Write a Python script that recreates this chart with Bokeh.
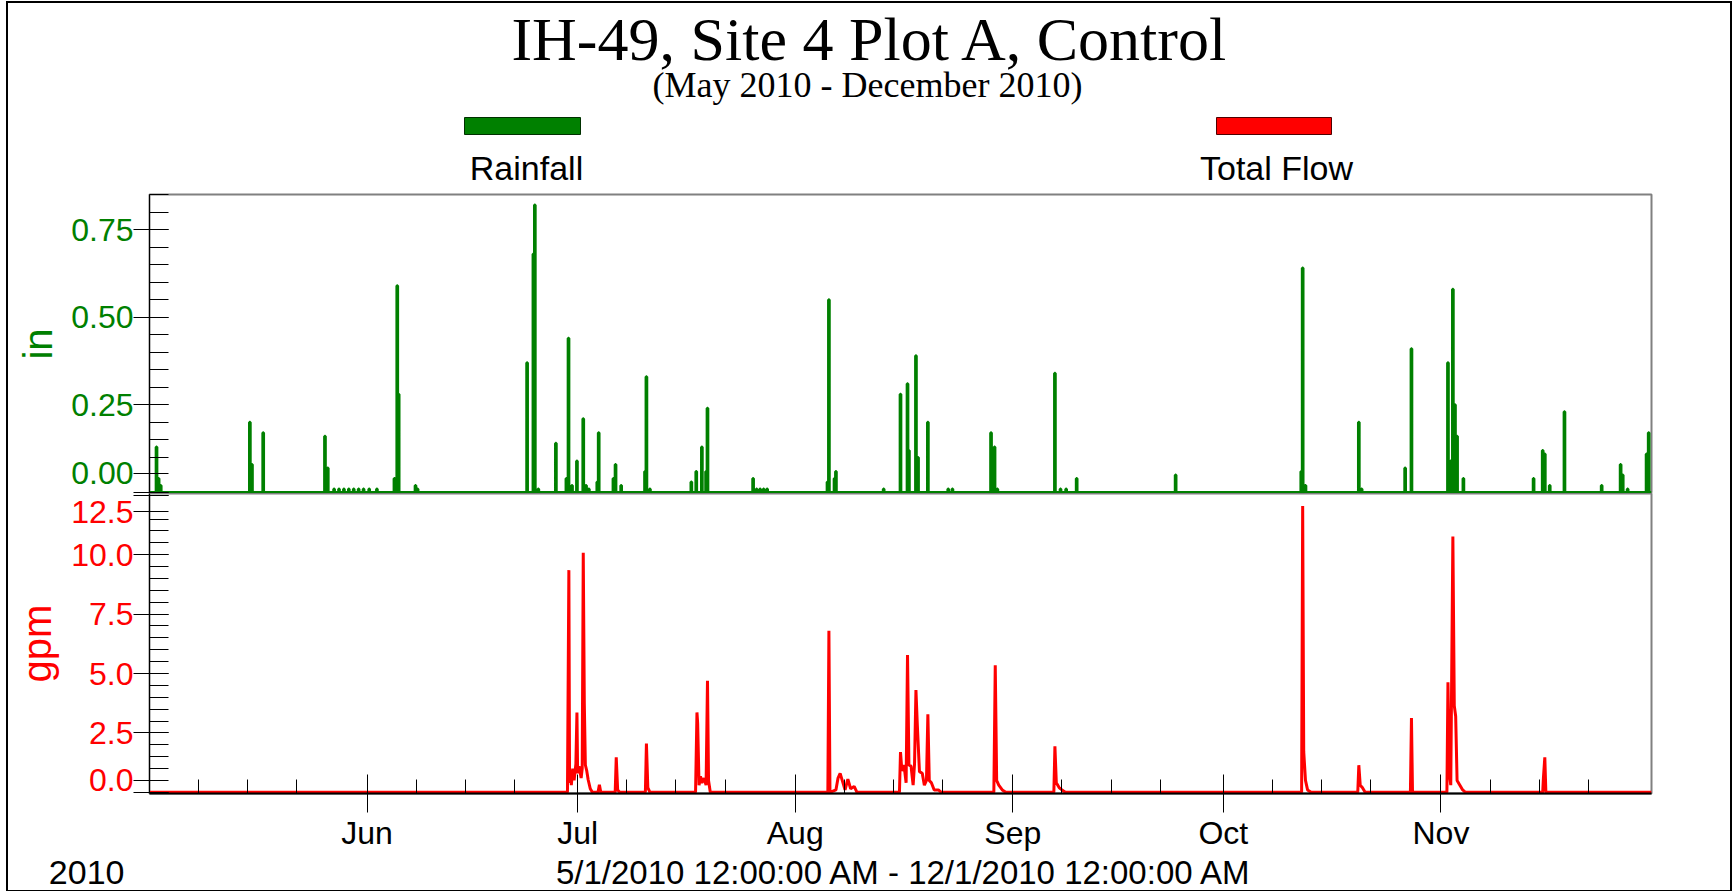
from bokeh.plotting import figure
from bokeh.models import FixedTicker, Range1d
from bokeh.layouts import column
from bokeh.core.properties import value
from bokeh.embed import file_html
from bokeh.resources import INLINE

# ---------------- data (days since 5/1/2010) ----------------
rain_day = [1.0, 1.3, 1.6, 14.3, 14.6, 16.2, 25.0, 25.4,
            26.3, 27.0, 27.7, 28.4, 29.1, 29.8, 30.5, 31.3, 32.4,
            34.9, 35.3, 35.5, 37.9, 38.2,
            53.8, 54.7, 54.9, 55.4, 57.9,
            59.4, 59.7, 60.2, 60.9, 61.8, 62.2, 62.6, 63.8, 64.0,
            66.1, 66.4, 67.2, 70.6, 70.8, 71.3,
            77.2, 77.9, 78.7, 79.3, 79.5,
            86.0, 86.5, 87.0, 87.5, 88.0,
            96.6, 96.8, 97.6, 97.8, 104.6,
            107.0, 108.0, 108.2, 109.2, 109.5, 110.9, 113.8, 114.4,
            119.9, 120.4, 120.8, 129.0, 129.8, 130.6, 132.1,
            146.2, 164.1, 164.3, 164.7, 172.3, 172.7, 178.9, 179.8,
            185.0, 185.4, 185.7, 186.0, 186.3, 187.2,
            197.2, 198.5, 198.8, 199.5, 201.6, 206.9,
            209.6, 209.9, 210.6, 213.3, 213.6]
rain_in = [0.13, 0.04, 0.02, 0.20, 0.08, 0.17, 0.16, 0.07,
           0.01, 0.01, 0.01, 0.01, 0.01, 0.01, 0.01, 0.01, 0.01,
           0.04, 0.59, 0.28, 0.02, 0.01,
           0.37, 0.68, 0.82, 0.01, 0.14,
           0.04, 0.44, 0.02, 0.09, 0.21, 0.02, 0.01, 0.03, 0.17,
           0.04, 0.08, 0.02, 0.06, 0.33, 0.01,
           0.03, 0.06, 0.13, 0.06, 0.24,
           0.04, 0.01, 0.01, 0.01, 0.01,
           0.03, 0.55, 0.04, 0.06, 0.01,
           0.28, 0.31, 0.12, 0.39, 0.10, 0.20, 0.01, 0.01,
           0.17, 0.13, 0.01, 0.34, 0.01, 0.01, 0.04,
           0.05, 0.06, 0.64, 0.02, 0.20, 0.01, 0.07, 0.41,
           0.37, 0.09, 0.58, 0.25, 0.16, 0.04,
           0.04, 0.12, 0.11, 0.02, 0.23, 0.02,
           0.08, 0.05, 0.01, 0.11, 0.17]

flow_day = [0, 59.55, 59.75, 59.85, 59.95, 60.1, 60.3, 60.5, 60.75, 60.9, 61.0, 61.2, 61.5,
            61.65, 61.8, 61.95, 62.1, 62.3, 62.5, 62.8, 63.1,
            63.9, 64.1, 64.3, 66.35, 66.5, 66.7, 67.0, 70.65, 70.8, 71.0, 71.3,
            77.8, 78.0, 78.1, 78.3, 78.5, 78.7, 79.0, 79.3, 79.5, 79.65, 79.9,
            96.65, 96.8, 96.95, 97.8, 98.1, 98.4, 98.7, 99.1, 99.5, 99.9, 100.4, 100.8,
            106.85, 107.0, 107.2, 107.5, 107.8, 108.0, 108.2, 108.5, 108.8, 109.0, 109.2,
            109.4, 109.7, 110.1, 110.4, 110.7, 110.9, 111.1, 111.4, 111.8, 112.4, 112.8,
            120.3, 120.5, 120.7, 121.0, 121.5, 122.0,
            128.85, 129.0, 129.2, 129.6, 130.0, 130.5,
            164.15, 164.3, 164.45, 164.7, 165.0, 165.5,
            172.15, 172.3, 172.5, 172.8, 173.2,
            179.65, 179.8, 179.95,
            184.85, 185.0, 185.2, 185.4, 185.7, 185.9, 186.1, 186.3, 186.7, 187.1, 187.5,
            198.5, 198.6, 198.8, 198.95, 214]
flow_gpm = [0, 0, 9.35, 0.4, 0.94, 0.3, 1.0, 0.5, 1.2, 3.36, 0.8, 1.1, 0.6,
            1.0, 10.08, 3.75, 1.15, 0.9, 0.53, 0.15, 0,
            0, 0.32, 0, 0, 1.47, 0.1, 0, 0, 2.05, 0.2, 0,
            0, 3.36, 2.9, 0.3, 0.67, 0.4, 0.6, 0.3, 4.69, 0.5, 0,
            0, 6.8, 0, 0.1, 0.6, 0.8, 0.5, 0.1, 0.55, 0.15, 0.25, 0,
            0, 1.69, 0.9, 1.15, 0.4, 5.78, 1.15, 1.1, 0.3, 1.2, 4.3,
            2.82, 0.87, 0.8, 0.3, 0.5, 3.28, 0.5, 0.4, 0.1, 0.1, 0,
            0, 5.35, 0.5, 0.3, 0.1, 0,
            0, 1.94, 0.4, 0.2, 0.1, 0,
            0, 12.05, 1.71, 0.5, 0.1, 0,
            0, 1.14, 0.3, 0.2, 0,
            0, 3.13, 0,
            0, 4.63, 0.8, 0.3, 10.76, 3.65, 3.2, 0.5, 0.3, 0.1, 0,
            0, 0.6, 1.47, 0, 0]

month_ticks = [31, 61, 92, 123, 153, 184]
month_names = ["Jun", "Jul", "Aug", "Sep", "Oct", "Nov"]
week_ticks = [7, 14, 21, 38, 45, 52, 68, 75, 82, 99, 106, 113,
              130, 137, 144, 160, 167, 174, 191, 198, 205]
rain_ticks = [0.0, 0.25, 0.5, 0.75]
rain_labels = ["0.00", "0.25", "0.50", "0.75"]
flow_ticks = [0.0, 2.5, 5.0, 7.5, 10.0, 12.5]
flow_labels = ["0.0", "2.5", "5.0", "7.5", "10.0", "12.5"]

title_text = "IH-49, Site 4 Plot A, Control"
subtitle_text = "(May 2010 - December 2010)"
legend_names = ["Rainfall", "Total Flow"]
year_text = "2010"
range_text = "5/1/2010 12:00:00 AM - 12/1/2010 12:00:00 AM"

GREEN = "#008000"
RED = "#ff0000"
SANS = "Liberation Sans"
SERIF = "Liberation Serif"

# ---------------- geometry (column placed at page x=OX, y=OY) ----------------
OX, OY = 8, 3
W = 1722
ML, MR = 141, 79
FL, FR = OX + ML, OX + W - MR        # frame left/right in page pixels
X0, X1 = 0, 214
R0, R1 = -0.003, 0.850
F0, F1 = -0.05, 12.575
HH = 192 - OY                         # header height (p1 frame starts at page y=194)
P1H = 301
P2B = 57                              # bottom border of flow panel
P2H = 303 + P2B
FT = OY + HH + P1H + P2H              # footer top (page y)
FH = 890 - FT                         # footer height

# minor tick sets
rain_minor = [round(0.05 * i, 2) for i in range(0, 18)]
flow_minor = [round(0.5 * i, 1) for i in range(0, 26)]

# rainfall polyline built from the events
rx, ry = [X0], [0.0]
hw = 0.05
for d, v in zip(rain_day, rain_in):
    rx += [d - hw, d - hw, d + hw, d + hw]
    ry += [0.0, v, v, 0.0]
rx.append(X1)
ry.append(0.0)

# ---------------- header (coordinates = page pixels) ----------------
head = figure(width=W, height=HH, x_range=Range1d(FL, FR), y_range=Range1d(OY + HH, OY),
              toolbar_location=None, output_backend="svg",
              x_axis_location=None, y_axis_location=None,
              min_border_left=ML, min_border_right=MR, min_border_top=0,
              min_border_bottom=0, outline_line_color=None)
head.grid.visible = False
head.text(x=[870], y=[38], text=[title_text],
          text_font=value(SERIF), text_font_size="62px", text_align="center",
          text_baseline="middle", text_color="black")
head.text(x=[867], y=[84], text=[subtitle_text],
          text_font=value(SERIF), text_font_size="36px", text_align="center",
          text_baseline="middle", text_color="black")
head.quad(left=[464, 1216], right=[580, 1331], top=[117, 117], bottom=[134, 134],
          fill_color=[GREEN, RED], line_color=["#003000", "#500000"], line_width=1)
head.text(x=[526, 1276], y=[167, 167], text=legend_names,
          text_font=value(SANS), text_font_size="34px", text_align="center",
          text_baseline="middle", text_color="black")


def style_y(ax, ticks, labels, minor, color, label, standoff, shift, gap):
    # edge labels sit on a tick shifted inward (as in the original chart)
    pos = [shift.get(t, t) for t in ticks]
    moved = list(shift.values())
    minor = [m for m in minor if all(abs(m - p) > gap for p in moved)]
    ax.ticker = FixedTicker(ticks=sorted(set(ticks + pos)), minor_ticks=minor)
    over = {t: "" for t in ticks}
    for p, lab in zip(pos, labels):
        over[p] = lab
    ax.major_label_overrides = over
    ax.major_label_text_font = SANS
    ax.major_label_text_font_size = "32px"
    ax.major_label_text_color = color
    ax.major_label_standoff = 0
    ax.major_tick_in, ax.major_tick_out = 19, 16
    ax.minor_tick_in, ax.minor_tick_out = 19, 0
    ax.axis_line_color = "black"
    ax.major_tick_line_color = "black"
    ax.minor_tick_line_color = "black"
    ax.axis_label = label
    ax.axis_label_text_font = SANS
    ax.axis_label_text_font_size = "40px"
    ax.axis_label_text_font_style = "normal"
    ax.axis_label_text_color = color
    ax.axis_label_text_line_height = 1.0
    ax.axis_label_standoff = standoff


# ---------------- rainfall panel ----------------
p1 = figure(width=W, height=P1H, x_range=Range1d(X0, X1), y_range=Range1d(R0, R1),
            toolbar_location=None, output_backend="svg", x_axis_location=None,
            min_border_left=ML, min_border_right=MR, min_border_top=2, min_border_bottom=0,
            outline_line_color="#808080", outline_line_width=2)
p1.grid.visible = False
p1.line(rx, ry, line_color=GREEN, line_width=3)
style_y(p1.yaxis[0], rain_ticks, rain_labels, rain_minor, GREEN, "in", 8,
        {0.0: 0.055}, 0.012)

# ---------------- flow panel ----------------
p2 = figure(width=W, height=P2H, x_range=p1.x_range, y_range=Range1d(F0, F1),
            toolbar_location=None, output_backend="svg",
            min_border_left=ML, min_border_right=MR, min_border_top=0, min_border_bottom=P2B,
            outline_line_color="#808080", outline_line_width=2)
p2.grid.visible = False
p2.line(flow_day, flow_gpm, line_color=RED, line_width=3)
style_y(p2.yaxis[0], flow_ticks, flow_labels, flow_minor, RED, "gpm", 9,
        {0.0: 0.5, 12.5: 11.8}, 0.25)

bx = p2.xaxis[0]
bx.ticker = FixedTicker(ticks=month_ticks, minor_ticks=week_ticks)
bx.major_label_overrides = {t: n for t, n in zip(month_ticks, month_names)}
bx.major_label_text_font = SANS
bx.major_label_text_font_size = "32px"
bx.major_label_text_color = "black"
bx.major_label_standoff = 2
bx.major_tick_in, bx.major_tick_out = 19, 19
bx.minor_tick_in, bx.minor_tick_out = 14, 0
bx.axis_line_color = "black"
bx.axis_line_width = 2
bx.major_tick_line_color = "black"
bx.minor_tick_line_color = "black"

# ---------------- footer (coordinates = page pixels) ----------------
FY = 871.5
foot = figure(width=W, height=FH, x_range=Range1d(FL, FR), y_range=Range1d(FT + FH, FT),
              toolbar_location=None, output_backend="svg", x_axis_location=None,
              min_border_left=ML, min_border_right=MR, min_border_top=0, min_border_bottom=0,
              outline_line_color=None)
foot.grid.visible = False
fy = foot.yaxis[0]
fy.ticker = FixedTicker(ticks=[FY], minor_ticks=[])
fy.major_label_overrides = {FY: year_text}
fy.major_label_text_font = SANS
fy.major_label_text_font_size = "34px"
fy.major_label_text_color = "black"
fy.major_label_standoff = FL - 124
fy.major_tick_in, fy.major_tick_out = 0, 0
fy.axis_line_color = None
fy.major_tick_line_color = None
fy.minor_tick_line_color = None
foot.text(x=[904], y=[FY], text=[range_text], text_font=value(SANS),
          text_font_size="33px", text_align="center", text_baseline="middle",
          text_color="black")

layout = column(head, p1, p2, foot, spacing=0,
                styles={"margin-left": f"{OX}px", "margin-top": f"{OY}px",
                        "outline": "2px solid black"})
open("out.html", "w").write(file_html(layout, INLINE))
